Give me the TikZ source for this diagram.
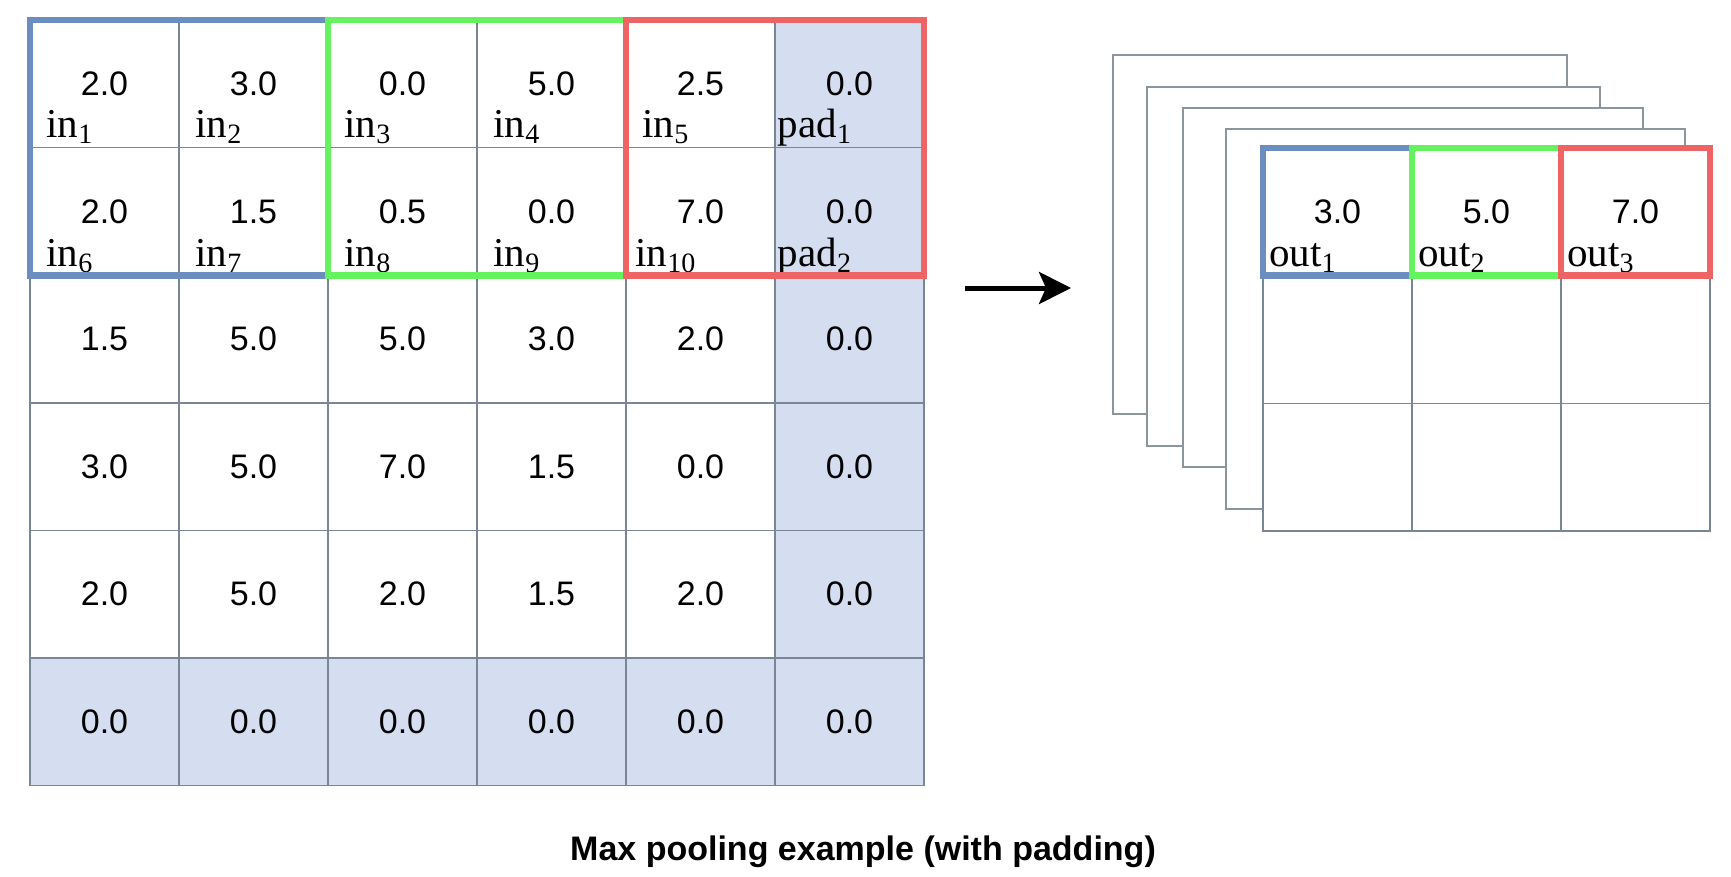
\documentclass[tikz,border=0pt]{standalone}
\usepackage{fontspec}
\setmainfont{Liberation Serif}
\newfontfamily\numfont{Liberation Sans}
\usetikzlibrary{arrows.meta}

\definecolor{gridline}{RGB}{120,134,152}
\definecolor{sheetline}{RGB}{140,148,158}
\definecolor{padfill}{RGB}{212,222,240}
\definecolor{poolblue}{RGB}{108,142,191}
\definecolor{poolgreen}{RGB}{100,242,95}
\definecolor{poolred}{RGB}{238,100,100}

\newcommand{\idx}[1]{\raisebox{-6pt}{\fontsize{28}{30}\selectfont #1}}

\tikzset{
        cell/.style={draw=gridline, line width=1.5pt, minimum width=149pt, minimum height=127.5pt,
                inner sep=0pt, outer sep=0pt, font=\numfont\fontsize{34}{40}\selectfont},
        lab/.style={anchor=base, inner sep=0pt, font=\fontsize{41}{44}\selectfont},
        pool/.style={line width=6.5pt},
        sheet/.style={draw=sheetline, fill=white, line width=1.5pt},
}

\begin{document}
\begin{tikzpicture}[x=1pt,y=-1pt]
        \useasboundingbox (0,0) rectangle (1731,877);
        \fill[white] (0,0) rectangle (1731,877);
        % input with padding
        \fill[padfill] (775,20) rectangle (924,785);
        \fill[padfill] (30,658) rectangle (924,785);
        \foreach \row [count=\r from 0] in {{2.0,3.0,0.0,5.0,2.5,0.0},{2.0,1.5,0.5,0.0,7.0,0.0},
                        {1.5,5.0,5.0,3.0,2.0,0.0},{3.0,5.0,7.0,1.5,0.0,0.0},
                        {2.0,5.0,2.0,1.5,2.0,0.0},{0.0,0.0,0.0,0.0,0.0,0.0}}
                \foreach \v [count=\c from 0] in \row
                        \node[cell] (in-\r-\c) at (104.5+149*\c, 84+127.5*\r) {\v};
        \foreach \t [count=\c from 0] in {in\idx{1},in\idx{2},in\idx{3},in\idx{4},in\idx{5},pad\idx{1}}
                \node[lab] (lab-0-\c) at ([xshift=-35pt,yshift=10pt]in-0-\c.south) {\t};
        \foreach \t [count=\c from 0] in {in\idx{6},in\idx{7},in\idx{8},in\idx{9},in\idx{10},pad\idx{2}}
                \node[lab] (lab-1-\c) at ([xshift=-35pt,yshift=9pt]in-1-\c.south) {\t};
        \draw[pool, poolblue] (in-0-0.north west) rectangle (in-1-1.south east);
        \draw[pool, poolgreen] (in-0-2.north west) rectangle (in-1-3.south east);
        \draw[pool, poolred] (in-0-4.north west) rectangle (in-1-5.south east);

        % output stack
        \draw[sheet] (1113,55) rectangle (1567,414);
        \draw[sheet] (1147,87) rectangle (1600,446);
        \draw[sheet] (1183,108) rectangle (1643,467);
        \draw[sheet] (1226,129) rectangle (1685,509);
        \foreach \v [count=\c from 0] in {3.0,5.0,7.0}
                \node[cell, fill=white] (out-0-\c) at (1337.5+149*\c, 212) {\v};
        \foreach \r in {1,2}
                \foreach \c in {0,1,2}
                        \node[cell, fill=white] (out-\r-\c) at (1337.5+149*\c, 212+127.5*\r) {};
        \foreach \c [count=\n] in {0,1,2}
                \node[lab] (olab-\c) at ([xshift=-35pt,yshift=9pt]out-0-\c.south) {out\idx{\n}};
        \draw[pool, poolblue] (out-0-0.north west) rectangle (out-0-0.south east);
        \draw[pool, poolgreen] (out-0-1.north west) rectangle (out-0-1.south east);
        \draw[pool, poolred] (out-0-2.north west) rectangle (out-0-2.south east);

        \coordinate (arrow-from) at (965,288);
        \coordinate (arrow-to) at (1071,288);
        \draw[line width=5pt, -{Stealth[length=32pt,width=32pt,inset=7pt]}] (arrow-from) -- (arrow-to);

        \node[anchor=base, font=\numfont\bfseries\fontsize{34}{40}\selectfont] (caption) at (863,860)
                {Max pooling example (with padding)};
\end{tikzpicture}
\end{document}
